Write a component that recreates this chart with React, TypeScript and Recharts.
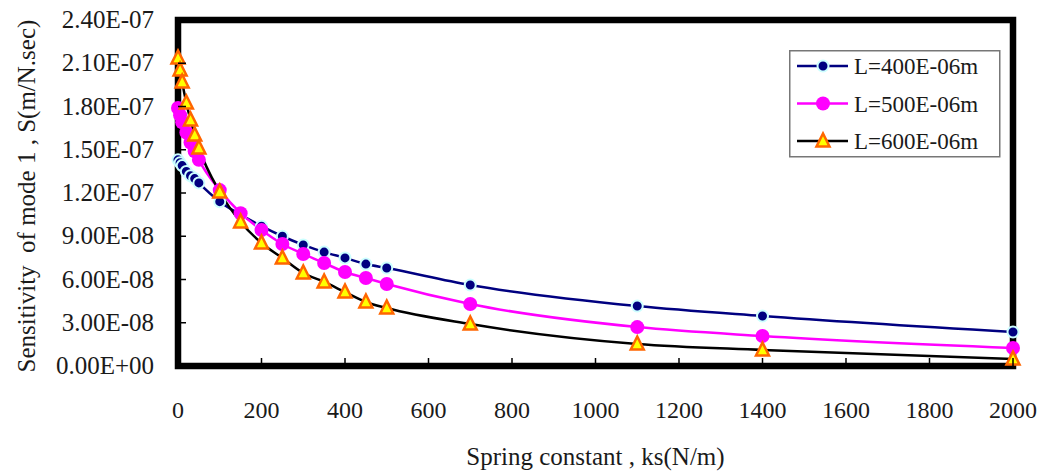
import { LineChart, Line, XAxis, YAxis, Legend, ReferenceArea } from "recharts";

// spring constant ks (N/m)
const ks = [0, 5, 10, 20, 30, 40, 50, 100, 150, 200, 250, 300, 350, 400, 450, 500, 700, 1100, 1400, 2000];

// sensitivity of mode 1, S (m/N.sec)
const sL400 = [1.43e-7, 1.41e-7, 1.39e-7, 1.35e-7, 1.32e-7, 1.3e-7, 1.27e-7, 1.14e-7, 1.05e-7, 9.7e-8, 9.0e-8, 8.4e-8, 7.9e-8, 7.5e-8, 7.07e-8, 6.8e-8, 5.62e-8, 4.16e-8, 3.47e-8, 2.36e-8];
const sL500 = [1.79e-7, 1.74e-7, 1.69e-7, 1.62e-7, 1.55e-7, 1.49e-7, 1.43e-7, 1.22e-7, 1.06e-7, 9.43e-8, 8.46e-8, 7.77e-8, 7.14e-8, 6.52e-8, 6.1e-8, 5.69e-8, 4.3e-8, 2.7e-8, 2.08e-8, 1.25e-8];
const sL600 = [2.136e-7, 2.053e-7, 1.97e-7, 1.824e-7, 1.706e-7, 1.602e-7, 1.512e-7, 1.207e-7, 9.99e-8, 8.53e-8, 7.49e-8, 6.45e-8, 5.83e-8, 5.13e-8, 4.44e-8, 4.02e-8, 2.91e-8, 1.53e-8, 1.11e-8, 4.9e-9];

const xTicks = [0, 200, 400, 600, 800, 1000, 1200, 1400, 1600, 1800, 2000];
const yTicks = [0, 3e-8, 6e-8, 9e-8, 1.2e-7, 1.5e-7, 1.8e-7, 2.1e-7, 2.4e-7];

const seriesNames = ["L=400E-06m", "L=500E-06m", "L=600E-06m"];

const data = ks.map((k, i) => ({ k, a: sL400[i], b: sL500[i], c: sL600[i] }));

const FONT = "'Liberation Serif', 'Times New Roman', serif";

function sci(v: number) {
  const [m, e] = v.toExponential(2).split("e");
  const sign = e[0] === "-" ? "-" : "+";
  const num = e.replace(/[+-]/, "").padStart(2, "0");
  return `${m}E${sign}${num}`;
}

function YTick({ x, y, payload }: any) {
  return (
    <g>
      <line x1={x} x2={x + 8} y1={y} y2={y} stroke="#000" strokeWidth={1.5} />
      <text x={x - 24} y={y + 8} textAnchor="end" fontSize={25} fontFamily={FONT} fill="#1a1a1a">
        {sci(payload.value)}
      </text>
    </g>
  );
}

function XTick({ x, y, payload }: any) {
  return (
    <g>
      <line x1={x} x2={x} y1={y} y2={y - 8} stroke="#000" strokeWidth={1.5} />
      <text x={x} y={y + 52} textAnchor="middle" fontSize={24} fontFamily={FONT} fill="#1a1a1a">
        {payload.value}
      </text>
    </g>
  );
}

function NavyDot({ cx, cy }: { cx: number; cy: number }) {
  return <circle cx={cx} cy={cy} r={5.5} fill="#000080" stroke="#ccffff" strokeWidth={2} />;
}

function PinkDot({ cx, cy }: { cx: number; cy: number }) {
  return <circle cx={cx} cy={cy} r={7} fill="#ff00ff" />;
}

function Tri({ cx, cy }: { cx: number; cy: number }) {
  const h = 6.5;
  return (
    <polygon
      points={`${cx},${cy - h - 1} ${cx - h},${cy + h - 1} ${cx + h},${cy + h - 1}`}
      fill="#ffff00"
      stroke="#ff6600"
      strokeWidth={2.5}
      strokeLinejoin="miter"
    />
  );
}

function LegendBox() {
  const rows = [
    { color: "#000080", mark: (cx: number, cy: number) => <NavyDot cx={cx} cy={cy} /> },
    { color: "#ff00ff", mark: (cx: number, cy: number) => <PinkDot cx={cx} cy={cy} /> },
    { color: "#000000", mark: (cx: number, cy: number) => <Tri cx={cx} cy={cy} /> },
  ];
  return (
    <svg width={212} height={108} style={{ display: "block" }}>
      <rect x={0.75} y={0.75} width={210} height={106} fill="#fff" stroke="#777" strokeWidth={1.5} />
      {rows.map((r, i) => {
        const cy = 16 + i * 37.5;
        return (
          <g key={i}>
            <line x1={8} x2={59} y1={cy} y2={cy} stroke={r.color} strokeWidth={2.5} />
            {r.mark(34, cy)}
            <text x={65} y={cy + 8} fontSize={23} fontFamily={FONT} fill="#1a1a1a">
              {seriesNames[i]}
            </text>
          </g>
        );
      })}
    </svg>
  );
}

export default function App() {
  return (
    <div style={{ position: "absolute", left: 0, top: 0, width: 1047, height: 476, background: "#fff" }}>
      <LineChart width={1047} height={476} data={data} margin={{ top: 20, right: 34, bottom: 0, left: 0 }}>
        <XAxis
          dataKey="k"
          type="number"
          domain={[0, 2000]}
          ticks={xTicks}
          axisLine={false}
          tickLine={false}
          tickSize={0}
          tickMargin={0}
          tick={<XTick />}
          height={110}
          label={{ value: "Spring constant , ks(N/m)", position: "insideBottom", offset: 11, fontSize: 25, fontFamily: FONT, fill: "#1a1a1a" }}
        />
        <YAxis
          type="number"
          domain={[0, 2.4e-7]}
          ticks={yTicks}
          axisLine={false}
          tickLine={false}
          tickSize={0}
          tickMargin={0}
          tick={<YTick />}
          width={178}
          label={(p: any) => {
            const vb = p.viewBox;
            const lx = vb.x + 35;
            const ly = vb.y + vb.height / 2 + 3;
            return (
              <text
                x={lx}
                y={ly}
                transform={`rotate(-90 ${lx} ${ly})`}
                textAnchor="middle"
                fontSize={25}
                fontFamily={FONT}
                fill="#1a1a1a"
                style={{ whiteSpace: "pre" }}
              >
                {"Sensitivity  of mode 1 , S(m/N.sec)"}
              </text>
            );
          }}
        />
        <ReferenceArea x1={0} x2={2000} y1={0} y2={2.4e-7} fill="none" stroke="#000" strokeWidth={6.5} ifOverflow="visible" />
        <Legend
          layout="horizontal"
          verticalAlign="middle"
          align="center"
          wrapperStyle={{ left: 789, top: 50, width: 212, height: 108 }}
          content={() => <LegendBox />}
        />
        <Line
          type="monotone"
          dataKey="a"
          name={seriesNames[0]}
          stroke="#000080"
          strokeWidth={2.5}
          dot={(p: any) => <NavyDot key={`a${p.index}`} cx={p.cx} cy={p.cy} />}
          activeDot={false}
          isAnimationActive={false}
        />
        <Line
          type="monotone"
          dataKey="b"
          name={seriesNames[1]}
          stroke="#ff00ff"
          strokeWidth={2.5}
          dot={(p: any) => <PinkDot key={`b${p.index}`} cx={p.cx} cy={p.cy} />}
          activeDot={false}
          isAnimationActive={false}
        />
        <Line
          type="monotone"
          dataKey="c"
          name={seriesNames[2]}
          stroke="#000000"
          strokeWidth={2.5}
          dot={(p: any) => <Tri key={`c${p.index}`} cx={p.cx} cy={p.cy} />}
          activeDot={false}
          isAnimationActive={false}
        />
      </LineChart>
    </div>
  );
}
